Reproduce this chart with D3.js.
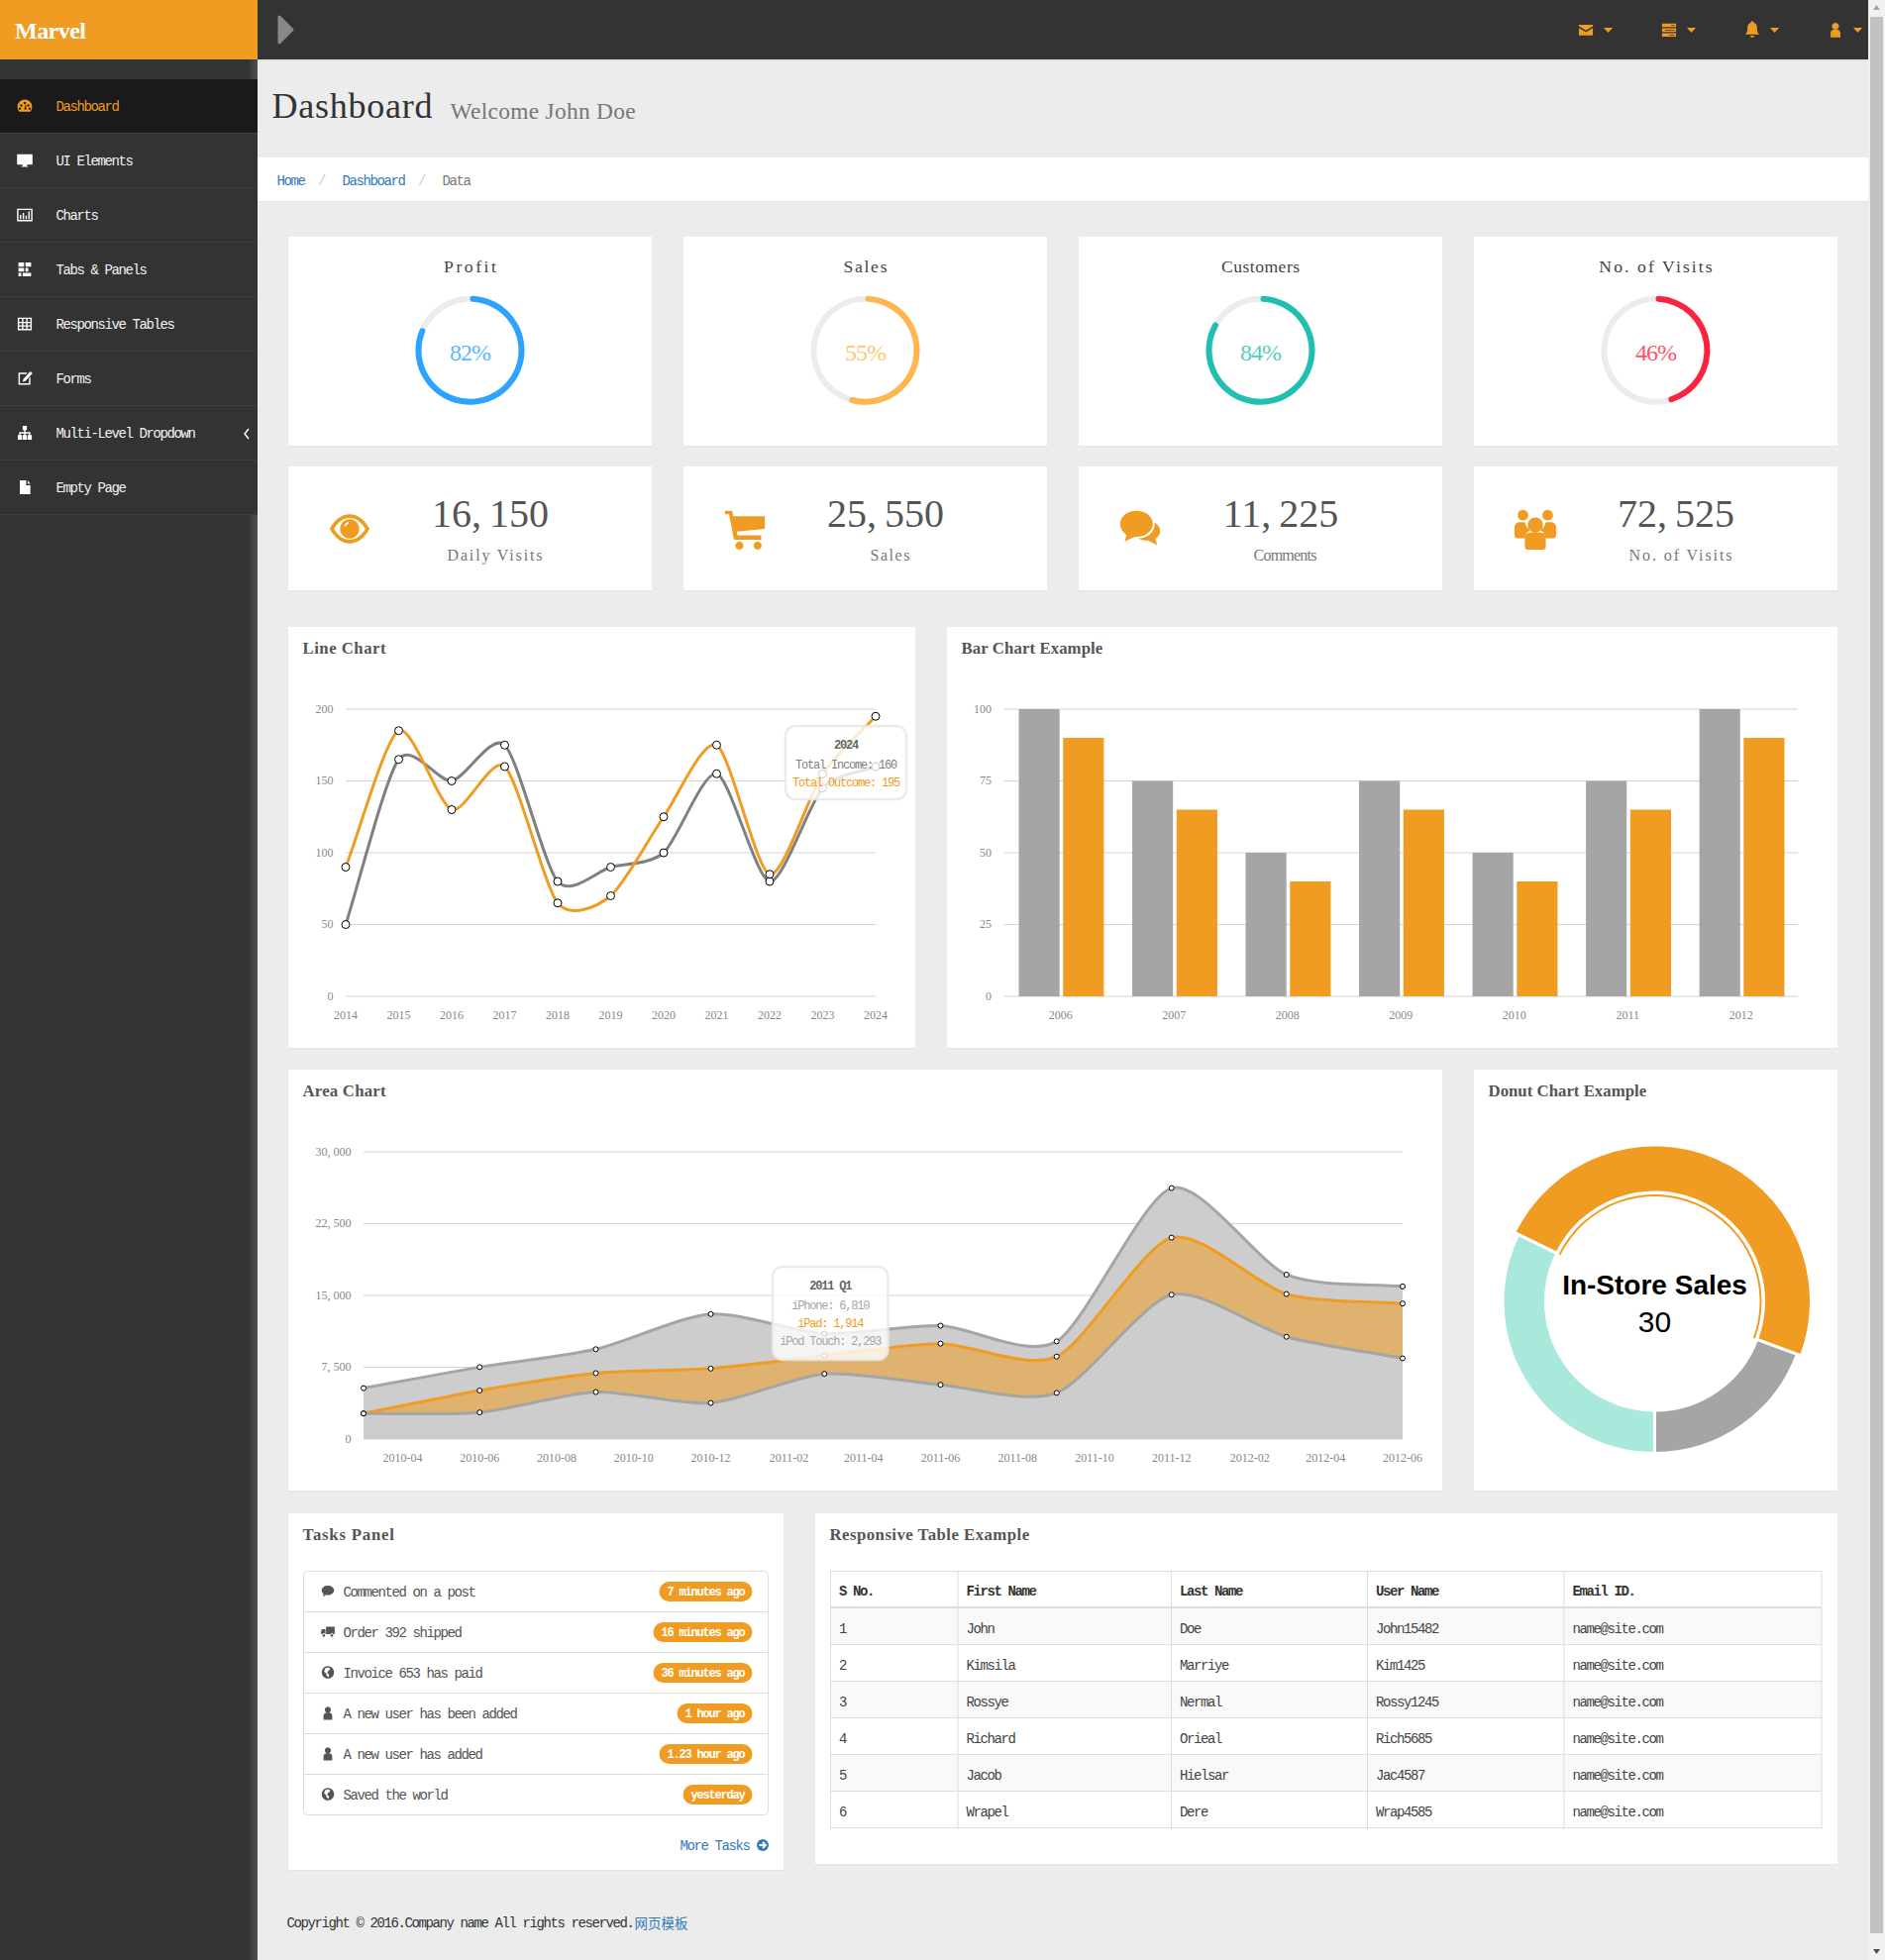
<!DOCTYPE html>
<html>
<head>
<meta charset="utf-8">
<title>Marvel Dashboard</title>
<script src="https://cdnjs.cloudflare.com/ajax/libs/d3/7.8.5/d3.min.js"></script>
<style>
  html, body { margin: 0; padding: 0; background: #ececec; overflow: hidden; }
  svg { display: block; }
  text { font-family: "Liberation Mono", monospace; letter-spacing: -0.1em; dominant-baseline: central; }
  .num, .serif, .tick text { font-family: "Liberation Serif", serif; letter-spacing: 0; }
  .tick text { font-size: 12px; fill: #888; dominant-baseline: auto; }
  .tick line { stroke: #d4d4d4; }
  .domain { display: none; }
  .tip { font-size: 12px; }
  .sans { font-family: "Liberation Sans", Arial, sans-serif; letter-spacing: 0; }
</style>
</head>
<body>
<svg id="page" width="1903" height="1979"></svg>
<script>
  const orange = '#f09c22', dark = '#333333', link = '#337ab7';

  // sidebar and header
  const sideLabels = ['Dashboard', 'UI Elements', 'Charts', 'Tabs & Panels', 'Responsive Tables', 'Forms', 'Multi-Level Dropdown', 'Empty Page'];
  const sideIcons = ['gauge', 'desktop', 'chart', 'tabs', 'table', 'edit', 'sitemap', 'file'];
  const topIcons = ['envelope', 'tasks', 'bell', 'user'];
  const crumbs = ['Home', '/', 'Dashboard', '/', 'Data'];

  // top cards
  const gaugeLabels = ['Profit', 'Sales', 'Customers', 'No. of Visits'];
  const gaugeValues = [82, 55, 84, 46];
  const gaugeColors = ['#2ba3ff', '#ffb74d', '#1fc0b1', '#f9243f'];
  const statValues = [16150, 25550, 11225, 72525];
  const statLabels = ['Daily Visits', 'Sales', 'Comments', 'No. of Visits'];
  const statIcons = ['eye', 'cart', 'chats', 'users'];

  // line chart
  const lineYears = ['2014', '2015', '2016', '2017', '2018', '2019', '2020', '2021', '2022', '2023', '2024'];
  const lineIncome = [50, 165, 150, 175, 80, 90, 100, 155, 80, 145, 160];
  const lineOutcome = [90, 185, 130, 160, 65, 70, 125, 175, 85, 155, 195];
  const lineTicks = [0, 50, 100, 150, 200];

  // bar chart
  const barYears = ['2006', '2007', '2008', '2009', '2010', '2011', '2012'];
  const barGrey = [100, 75, 50, 75, 50, 75, 100];
  const barOrange = [90, 65, 40, 65, 40, 65, 90];
  const barTicks = [0, 25, 50, 75, 100];

  // area chart, quarters sit on the third month
  const areaMonths = ['2010-03', '2010-06', '2010-09', '2010-12', '2011-03', '2011-06', '2011-09', '2011-12', '2012-03', '2012-06'];
  const iphone = [2666, 2778, 4912, 3767, 6810, 5670, 4820, 15073, 10687, 8432];
  const ipad = [0, 2294, 1969, 3597, 1914, 4293, 3795, 5967, 4460, 5713];
  const itouch = [2647, 2441, 2501, 5689, 2293, 1881, 1588, 5175, 2028, 1791];
  const areaTicks = [0, 7500, 15000, 22500, 30000];
  const areaLabels = ['2010-04', '2010-06', '2010-08', '2010-10', '2010-12', '2011-02', '2011-04', '2011-06', '2011-08', '2011-10', '2011-12', '2012-02', '2012-04', '2012-06'];

  // donut
  const donutLabels = ['Download Sales', 'In-Store Sales', 'Mail-Order Sales'];
  const donutValues = [12, 30, 20];
  const donutColors = ['#a5a5a5', orange, '#a8e9dc'];

  // tasks
  const taskTexts = ['Commented on a post', 'Order 392 shipped', 'Invoice 653 has paid', 'A new user has been added', 'A new user has added', 'Saved the world'];
  const taskTimes = ['7 minutes ago', '16 minutes ago', '36 minutes ago', '1 hour ago', '1.23 hour ago', 'yesterday'];
  const taskIcons = ['comment', 'truck', 'globe', 'user', 'user', 'globe'];

  // table
  const tableHead = ['S No.', 'First Name', 'Last Name', 'User Name', 'Email ID.'];
  const rowNo = ['1', '2', '3', '4', '5', '6'];
  const firstNames = ['John', 'Kimsila', 'Rossye', 'Richard', 'Jacob', 'Wrapel'];
  const lastNames = ['Doe', 'Marriye', 'Nermal', 'Orieal', 'Hielsar', 'Dere'];
  const userNames = ['John15482', 'Kim1425', 'Rossy1245', 'Rich5685', 'Jac4587', 'Wrap4585'];
  const emails = ['name@site.com', 'name@site.com', 'name@site.com', 'name@site.com', 'name@site.com', 'name@site.com'];
  const tableCols = [838.5, 967, 1182.5, 1380.5, 1579, 1839];

  const iconPaths = {
    gauge: 'M4 20A10.500 10.500 0 1 1 20 20ZM7 9.500a1.700 1.700 0 1 0 .01 0zM12 6a1.700 1.700 0 1 0 .01 0zM17 9.500a1.700 1.700 0 1 0 .01 0zM5 14a1.700 1.700 0 1 0 .01 0zM19 14a1.700 1.700 0 1 0 .01 0zM11 17l2.500-8 .8 8z',
    desktop: 'M1 3h22v15h-8v2h2v1H7v-1h2v-2H1z',
    chart: 'M1 3h22v18H1zM3 5v14h18V5zM5 12h2v6H5zM9 9h2v9H9zM13 13h2v5h-2zM17 7h2v11h-2z',
    tabs: 'M3 2h8v6H3zM13 2h8v6h-8zM3 10h8v5H3zM13 10h4v5h-4zM3 17h4v5H3zM9 17h12v5H9z',
    table: 'M2 3h20v18H2zM4 5v4h4V5zM10 5v4h4V5zM16 5v4h4V5zM4 11v3h4v-3zM10 11v3h4v-3zM16 11v3h4v-3zM4 16v3h4v-3zM10 16v3h4v-3zM16 16v3h4v-3z',
    edit: 'M3 4h13l-2 2H5v13h13v-7l2-2v11H3zM20 2l3 3-10 11-4 1 1-4z',
    sitemap: 'M9 2h6v6h-2v3h7v4h2v7h-6v-7h2v-2h-5v2h2v7H9v-7h2v-2H6v2h2v7H2v-7h2v-4h7V8H9z',
    file: 'M5 2h9v7h6v13H5zM16 2l4 5h-4z',
    envelope: 'M2 5h20v2l-10 6L2 7zM2 9.500l10 6 10-6V20H2z',
    tasks: 'M2 3h20v5H2zM2 10h20v5H2zM2 17h20v5H2zM15 5v1h5V5zM6 12v1h14v-1zM12 19v1h8v-1z',
    bell: 'M12 1a2 2 0 0 1 2 2c3 .8 4 3.500 4 6 0 5 1 7 3 9H3c2-2 3-4 3-9 0-2.500 1-5.200 4-6a2 2 0 0 1 2-2zM9.500 19.500h5a2.500 2.500 0 0 1-5 0z',
    user: 'M12 2a5 5 0 1 1-.01 0zM5 23v-6c0-3 2-5 4-5h6c2 0 4 2 4 5v6z',
    eye: 'M1 12C4 6.500 8 4 12 4s8 2.500 11 8c-3 5.500-7 8-11 8S4 17.500 1 12zM3.400 12c2.300 3.900 5.400 6 8.600 6s6.300-2.100 8.600-6c-2.300-3.900-5.400-6-8.600-6S5.700 8.100 3.400 12zM12 6.700a5.300 5.300 0 1 1-.01 0zM9 10.500c.2-1.200 1.200-2.200 2.400-2.300l.1 1c-.8.1-1.300.6-1.500 1.400z',
    cart: 'M1 2h4l.6 3H23v7l-15.500 1.500.4 2H21V18H6L3.300 4H1zM9 19a2.200 2.200 0 1 0 .01 0zM19 19a2.200 2.200 0 1 0 .01 0z',
    chats: 'M10 2c5 0 9 3.200 9 7.200s-4 7.200-9 7.200h-1L3.500 19l1-3.700C2.500 14 1 11.800 1 9.200 1 5.200 5 2 10 2zM20 8.500c2 1.300 3.300 3.200 3 5.200-.2 1.700-1.300 3-2.600 3.800l1 3.500-5-2.600c-2 .2-3.900-.2-5.300-1.200 4.800.2 9.300-3.200 8.900-8.700z',
    users: 'M5.500 2a2.800 2.800 0 1 1-.01 0zM18.500 2a2.800 2.800 0 1 1-.01 0zM12 6a4 4 0 1 1-.01 0zM1 11.500c0-1.800 1.200-3 2.500-3h3c.4 2 1.500 3.400 3 4.200-1.800.8-3 2.500-3 4.300H2.500C1.500 17 1 16 1 15zM23 11.500c0-1.800-1.200-3-2.500-3h-3c-.4 2-1.500 3.400-3 4.200 1.800.8 3 2.500 3 4.300h4c1 0 1.500-1 1.500-2zM9 14h6c1.500 0 2.500 1.500 2.500 3v4.500c0 1-1 1.500-2 1.500h-7c-1 0-2-.5-2-1.500V17c0-1.500 1-3 2.500-3z',
    comment: 'M12 3c5.500 0 10 3.400 10 7.600s-4.500 7.600-10 7.600c-.9 0-1.700-.1-2.500-.3L4 21l1.200-4.400C3.200 15.200 2 13 2 10.600 2 6.400 6.500 3 12 3z',
    truck: 'M9 4h14v12h-2.200a2.500 2.500 0 0 0-4.600 0H9zM2 8h6v8H7.800a2.500 2.500 0 0 0-4.600 0H1v-4zM5.500 16a2.200 2.200 0 1 0 .01 0zM18.500 16a2.200 2.200 0 1 0 .01 0z',
    globe: 'M12 2a10 10 0 1 0 .01 0zM8 5l5-1 3 2-2 3-2 1-1 3 3 3-1 4-3-3-1-4-3-2 1-4z'
  };

  const svg = d3.select('#page');

  function label(parent, x, y, str, size, color, anchor, cls) {
    return parent.append('text')
      .attr('x', x).attr('y', y + 1)
      .attr('class', cls || null)
      .attr('text-anchor', anchor || 'start')
      .style('font-size', size + 'px')
      .style('fill', color)
      .text(str);
  }

  // serif text stretched to half an em per character
  function serif(parent, x, y, str, size, color, anchor) {
    return label(parent, x, y, str, size, color, anchor, 'serif')
      .attr('textLength', String(str).length * size / 2)
      .attr('lengthAdjust', 'spacing');
  }

  function icon(parent, name, cx, cy, size, color) {
    const k = size / 24;
    return parent.append('path')
      .attr('d', iconPaths[name])
      .attr('fill-rule', 'evenodd')
      .attr('fill', color)
      .attr('transform', `translate(${cx - size / 2},${cy - size / 2}) scale(${k})`);
  }

  function caret(parent, x, y) {
    const s = d3.path();
    s.moveTo(x, y); s.lineTo(x + 9, y); s.lineTo(x + 4.5, y + 5); s.closePath();
    parent.append('path').attr('d', s.toString()).attr('fill', orange);
  }

  function panel(x, y, w, h, title) {
    svg.append('rect').attr('x', x).attr('y', y + 1).attr('width', w).attr('height', h).attr('fill', '#e3e3e3');
    svg.append('rect').attr('x', x).attr('y', y).attr('width', w).attr('height', h).attr('fill', '#fff');
    if (title) serif(svg, x + 14.5, y + 20.5, title, 16.8, '#555').style('font-weight', 700);
  }

  // Morris.js smoothing: slope from the neighbours, handles at a quarter of the gap
  function morrisCurve(ctx) {
    let pts = [], line = NaN;
    return {
      areaStart() { line = 0; },
      areaEnd() { line = NaN; ctx.closePath(); },
      lineStart() { pts = []; },
      point(x, y) { pts.push([x, y]); },
      lineEnd() {
        const n = pts.length;
        const grad = pts.map((p, i) => {
          const a = pts[Math.max(i - 1, 0)], b = pts[Math.min(i + 1, n - 1)];
          return (b[1] - a[1]) / (b[0] - a[0]);
        });
        if (line === 1) ctx.lineTo(pts[0][0], pts[0][1]); else ctx.moveTo(pts[0][0], pts[0][1]);
        for (let i = 1; i < n; i++) {
          const ix = (pts[i][0] - pts[i - 1][0]) / 4;
          ctx.bezierCurveTo(pts[i - 1][0] + ix, pts[i - 1][1] + ix * grad[i - 1], pts[i][0] - ix, pts[i][1] - ix * grad[i], pts[i][0], pts[i][1]);
        }
        line = 1 - line;
      }
    };
  }

  function yAxis(g, y, ticks, width, fmt) {
    g.call(d3.axisLeft(y).tickValues(ticks).tickSize(-width).tickPadding(12.5).tickFormat(fmt).offset(0));
    g.selectAll('.tick text').attr('dy', '.3em');
  }

  function xAxis(g, x) {
    g.call(x).selectAll('.tick line').remove();
  }

  function tooltip(x, y, w, h, title, rows) {
    const t = svg.append('g');
    t.append('rect').attr('x', x).attr('y', y).attr('width', w).attr('height', h).attr('rx', 10)
      .attr('fill', 'rgba(255,255,255,0.8)').attr('stroke', 'rgba(232,232,232,0.85)').attr('stroke-width', 2.5);
    label(t, x + w / 2, y + 19, title, 12, '#666', 'middle', 'tip').style('font-weight', 700);
    rows.forEach((r, i) => label(t, x + w / 2, y + 39 + i * 18, r[0], 12, r[1], 'middle', 'tip'));
  }

  // --- page chrome ---
  svg.append('rect').attr('width', 1903).attr('height', 1979).attr('fill', '#ececec');
  svg.append('rect').attr('x', 0).attr('y', 60).attr('width', 260).attr('height', 1919).attr('fill', dark);
  const edge = svg.append('defs').append('linearGradient').attr('id', 'edge');
  edge.append('stop').attr('offset', 0).attr('stop-color', '#fff').attr('stop-opacity', 0);
  edge.append('stop').attr('offset', 1).attr('stop-color', '#fff').attr('stop-opacity', 0.14);
  svg.append('rect').attr('x', 250).attr('y', 60).attr('width', 10).attr('height', 20).attr('fill', 'url(#edge)');
  svg.append('rect').attr('x', 250).attr('y', 520).attr('width', 10).attr('height', 1459).attr('fill', 'url(#edge)');

  svg.append('rect').attr('x', 0).attr('y', 0).attr('width', 260).attr('height', 60).attr('fill', orange);
  svg.append('rect').attr('x', 260).attr('y', 60).attr('width', 1626).attr('height', 2).attr('fill', '#e2e2e2');
  svg.append('rect').attr('x', 260).attr('y', 0).attr('width', 1626).attr('height', 60).attr('fill', dark);
  serif(svg, 15, 30, 'Marvel', 24, '#fff').style('font-weight', 700);
  svg.append('path').attr('d', 'M282 17L295 30L282 43Z').attr('fill', '#888').attr('stroke', '#888').attr('stroke-width', 3).attr('stroke-linejoin', 'round');

  const topX = [1601, 1685, 1769, 1853];
  const topSize = [17, 17, 19, 17];
  topIcons.forEach((name, i) => {
    icon(svg, name, topX[i], 30, topSize[i], orange);
    caret(svg, topX[i] + 18, 28);
  });

  svg.append('rect').attr('x', 0).attr('y', 80).attr('width', 260).attr('height', 54).attr('fill', '#1a1a1a');
  sideLabels.forEach((name, i) => {
    const y = 80 + i * 55;
    svg.append('rect').attr('x', 0).attr('y', y + 54).attr('width', 260).attr('height', 1).attr('fill', '#3e3e3e');
    const c = i === 0 ? orange : '#fff';
    label(svg, 56.5, y + 27, name, 14, i === 0 ? orange : '#f2f2f2');
    icon(svg, sideIcons[i], 25, y + 27, 17, c);
  });
  svg.append('path').attr('d', 'M251 433L247 438L251 443').attr('fill', 'none').attr('stroke', '#fff').attr('stroke-width', 1.5);

  serif(svg, 274.5, 106, 'Dashboard', 36, dark);
  serif(svg, 454.5, 111, 'Welcome John Doe', 23.4, '#777');

  svg.append('rect').attr('x', 260).attr('y', 160).attr('width', 1626).attr('height', 44).attr('fill', '#e4e4e4');
  svg.append('rect').attr('x', 260).attr('y', 159).attr('width', 1626).attr('height', 44).attr('fill', '#fff');
  const crumbX = [279.5, 321, 345.5, 422, 446.5];
  crumbs.forEach((c, i) => label(svg, crumbX[i], 181.5, c, 14, i === 4 ? '#777' : c === '/' ? '#ccc' : link));

  // scrollbar
  svg.append('rect').attr('x', 1887).attr('y', 0).attr('width', 16).attr('height', 1979).attr('fill', '#f1f1f1');
  svg.append('rect').attr('x', 1888).attr('y', 17).attr('width', 13).attr('height', 1935).attr('fill', '#c1c1c1');
  svg.append('path').attr('d', 'M1894.500 5L1898 10H1891Z').attr('fill', '#a3a3a3');
  svg.append('path').attr('d', 'M1891 1968H1898L1894.500 1973Z').attr('fill', '#505050');

  // --- gauges and counters ---
  const cardX = [291, 690, 1089, 1488];
  const gaugeArc = d3.arc().innerRadius(49).outerRadius(55);
  gaugeValues.forEach((v, i) => {
    const x = cardX[i];
    panel(x, 239, 367, 211);
    serif(svg, x + 183.5, 268, gaugeLabels[i], 17.6, '#444', 'middle');
    const g = svg.append('g').attr('transform', `translate(${x + 183.5},353.700)`);
    g.append('path').attr('d', gaugeArc({ startAngle: 0, endAngle: 2 * Math.PI })).attr('fill', '#ececec');
    g.append('path').attr('d', gaugeArc.cornerRadius(3)({ startAngle: 0, endAngle: v / 100 * 2 * Math.PI })).attr('fill', gaugeColors[i]);
    gaugeArc.cornerRadius(0);
    label(g, 0, 1, v + '%', 24, gaugeColors[i], 'middle', 'num').style('letter-spacing', '-1px').style('fill-opacity', 0.8);
  });

  const thousands = d3.format(',');
  // the comma in the reference font is as wide as a digit
  function spacedComma(text, gap) {
    text.each(function () {
      const [a, b] = this.textContent.split(',');
      if (b === undefined) return;
      this.textContent = a + ',';
      d3.select(this).append('tspan').attr('dx', gap).text(b);
    });
  }

  statValues.forEach((v, i) => {
    const x = cardX[i];
    panel(x, 471, 367, 125);
    icon(svg, statIcons[i], x + 62, 534, i === 3 ? 46 : 44, orange);
    label(svg, x + 204, 517, thousands(v), 40, '#555', 'middle', 'num').call(spacedComma, 8);
    serif(svg, x + 208.5, 559, statLabels[i], 16, '#777', 'middle');
  });

  // --- line chart ---
  panel(291, 633, 633, 425, 'Line Chart');
  const lineX = d3.scalePoint().domain(lineYears).range([349, 884]);
  const lineY = d3.scaleLinear().domain([0, 200]).range([1006, 716]);
  yAxis(svg.append('g').attr('transform', 'translate(349,0)'), lineY, lineTicks, 535, d => d);
  xAxis(svg.append('g').attr('transform', 'translate(0,1006)'), d3.axisBottom(lineX).tickSize(0).tickPadding(14.5).offset(0));

  const linePath = d3.line().x(d => d.x).y(d => d.y).curve(morrisCurve);
  [[lineIncome, '#808080'], [lineOutcome, orange]].forEach(([vals, color]) => {
    const pts = vals.map((v, i) => ({ x: lineX(lineYears[i]), y: lineY(v) }));
    svg.append('path').attr('d', linePath(pts)).attr('fill', 'none').attr('stroke', color).attr('stroke-width', 3);
  });
  [lineIncome, lineOutcome].forEach(vals => {
    svg.append('g').selectAll('circle').data(vals).join('circle')
      .attr('cx', (d, i) => lineX(lineYears[i])).attr('cy', d => lineY(d)).attr('r', 4)
      .attr('fill', '#fff').attr('stroke', '#000').attr('stroke-width', 1);
  });
  tooltip(793, 733, 122, 74, lineYears[10], [
    ['Total Income: ' + lineIncome[10], '#808080'],
    ['Total Outcome: ' + lineOutcome[10], orange]
  ]);

  // --- bar chart ---
  panel(956, 633, 899, 425, 'Bar Chart Example');
  const barX = d3.scaleBand().domain(barYears).range([1014.200, 1815.800]).paddingInner(0.25).paddingOuter(0.125);
  const barSub = d3.scaleBand().domain([0, 1]).range([0, barX.bandwidth()]).paddingInner(0.08);
  const barY = d3.scaleLinear().domain([0, 100]).range([1006, 716]);
  yAxis(svg.append('g').attr('transform', 'translate(1013.400,0)'), barY, barTicks, 801.6, d => d);
  xAxis(svg.append('g').attr('transform', 'translate(-0.800,1006)'), d3.axisBottom(barX).tickSize(0).tickPadding(14.5).offset(0));
  [[barGrey, '#a5a5a5'], [barOrange, orange]].forEach(([vals, color], s) => {
    svg.append('g').selectAll('rect').data(vals).join('rect')
      .attr('x', (d, i) => barX(barYears[i]) + barSub(s))
      .attr('y', d => barY(d))
      .attr('width', barSub.bandwidth())
      .attr('height', d => barY(0) - barY(d))
      .attr('fill', color);
  });

  // --- area chart ---
  panel(291, 1080, 1165, 425, 'Area Chart');
  const parseMonth = d3.utcParse('%Y-%m');
  const areaDates = areaMonths.map(parseMonth);
  const areaX = d3.scaleUtc().domain([areaDates[0], areaDates[9]]).range([367, 1416]);
  const areaY = d3.scaleLinear().domain([0, 30000]).range([1453, 1163]);
  const areaYAxis = svg.append('g').attr('transform', 'translate(367,0)');
  yAxis(areaYAxis, areaY, areaTicks, 1049, thousands);
  areaYAxis.selectAll('.tick text').call(spacedComma, 3);
  const areaTickDates = areaLabels.map(parseMonth);
  xAxis(svg.append('g').attr('transform', 'translate(0,1453)'),
    d3.axisBottom(areaX).tickValues(areaTickDates).tickFormat(d3.utcFormat('%Y-%m')).tickSize(0).tickPadding(14.5).offset(0));

  const areaRows = areaMonths.map((m, i) => ({ date: areaDates[i], iphone: iphone[i], ipad: ipad[i], itouch: itouch[i] }));
  const areaStack = d3.stack().keys(['iphone', 'ipad', 'itouch'])(areaRows);
  const areaFill = d3.area().x(d => areaX(d.data.date)).y0(areaY(0)).y1(d => areaY(d[1])).curve(morrisCurve);
  const areaLine = d3.line().x(d => areaX(d.data.date)).y(d => areaY(d[1])).curve(morrisCurve);
  const layerFill = ['#cdcdcd', '#e0b26f', '#cdcdcd'];
  const layerLine = ['#a5a5a5', orange, '#a5a5a5'];
  d3.range(2, -1, -1).forEach(s => {
    svg.append('path').attr('d', areaFill(areaStack[s])).attr('fill', layerFill[s]);
    svg.append('path').attr('d', areaLine(areaStack[s])).attr('fill', 'none').attr('stroke', layerLine[s]).attr('stroke-width', 3);
  });
  areaStack.forEach(layer => {
    svg.append('g').selectAll('circle').data(layer).join('circle')
      .attr('cx', d => areaX(d.data.date)).attr('cy', d => areaY(d[1])).attr('r', 2.500)
      .attr('fill', '#fff').attr('stroke', '#000').attr('stroke-width', 1);
  });
  tooltip(780, 1279, 116.5, 94, '2011 Q1', [
    ['iPhone: ' + thousands(iphone[4]), '#a5a5a5'],
    ['iPad: ' + thousands(ipad[4]), orange],
    ['iPod Touch: ' + thousands(itouch[4]), '#a5a5a5']
  ]);

  // --- donut ---
  panel(1488, 1080, 367, 425, 'Donut Chart Example');
  const pie = d3.pie().sort(null).startAngle(Math.PI).endAngle(-Math.PI);
  const donut = svg.append('g').attr('transform', 'translate(1670.500,1314)');
  const ring = d3.arc().innerRadius(110);
  pie(donutValues).forEach((a, i) => {
    const selected = i === 1;
    donut.append('path').attr('d', ring.outerRadius(selected ? 158 : 153.5)(a))
      .attr('fill', donutColors[i]).attr('stroke', '#fff').attr('stroke-width', 3);
    if (selected) {
      donut.append('path').attr('d', d3.arc().innerRadius(106).outerRadius(108)(a)).attr('fill', donutColors[i]);
    }
  });
  label(donut, 0, -17.5, donutLabels[1], 28, '#000', 'middle', 'sans').style('font-weight', 700);
  label(donut, 0, 19, donutValues[1], 30, '#000', 'middle', 'sans');

  // --- tasks panel ---
  panel(291, 1528, 500, 360, 'Tasks Panel');
  svg.append('rect').attr('x', 306.5).attr('y', 1586.5).attr('width', 469).attr('height', 246).attr('rx', 4)
    .attr('fill', '#fff').attr('stroke', '#ddd');
  taskTexts.forEach((t, i) => {
    const y = 1586 + i * 41;
    if (i > 0) svg.append('rect').attr('x', 307).attr('y', y).attr('width', 468).attr('height', 1).attr('fill', '#ddd');
    icon(svg, taskIcons[i], 331, y + 20.5, 15, '#555');
    label(svg, 346.5, y + 21, t, 14, '#555');
    const w = taskTimes[i].length * 6 + 16;
    svg.append('rect').attr('x', 759.5 - w).attr('y', y + 11).attr('width', w).attr('height', 20).attr('rx', 10).attr('fill', orange);
    label(svg, 759.5 - w + 8, y + 20.5, taskTimes[i], 12, '#fff').style('font-weight', 700);
  });
  label(svg, 686.5, 1863, 'More Tasks', 14, link);
  svg.append('circle').attr('cx', 770).attr('cy', 1863).attr('r', 6).attr('fill', link);
  svg.append('path').attr('d', 'M766.500 1863H772M770 1860L773 1863L770 1866').attr('fill', 'none').attr('stroke', '#fff').attr('stroke-width', 1.800);

  // --- table ---
  panel(823, 1528, 1032, 354, 'Responsive Table Example');
  const rowColumns = [rowNo, firstNames, lastNames, userNames, emails];
  rowNo.forEach((r, i) => {
    if (i % 2 === 0) svg.append('rect').attr('x', tableCols[0]).attr('y', 1624 + i * 37).attr('width', tableCols[5] - tableCols[0]).attr('height', 37).attr('fill', '#f9f9f9');
    svg.append('rect').attr('x', tableCols[0]).attr('y', 1660 + i * 37).attr('width', tableCols[5] - tableCols[0]).attr('height', 1).attr('fill', '#ddd');
  });
  svg.append('rect').attr('x', tableCols[0]).attr('y', 1586).attr('width', tableCols[5] - tableCols[0]).attr('height', 1).attr('fill', '#ddd');
  svg.append('rect').attr('x', tableCols[0]).attr('y', 1622).attr('width', tableCols[5] - tableCols[0]).attr('height', 2).attr('fill', '#ddd');
  tableCols.forEach(x => svg.append('rect').attr('x', x - 0.5).attr('y', 1586).attr('width', 1).attr('height', 261).attr('fill', '#ddd'));
  tableHead.forEach((h, c) => {
    label(svg, tableCols[c] + 8.5, 1605.5, h, 14, dark).style('font-weight', 700);
    rowColumns[c].forEach((v, i) => label(svg, tableCols[c] + 8.5, 1643.5 + i * 37, v, 14, '#444'));
  });

  // --- footer ---
  label(svg, 289.5, 1941, 'Copyright © 2016.Company name All rights reserved.', 14, dark);
  label(svg, 640.5, 1940, '网页模板', 13.5, link).style('font-family', '"Noto Sans CJK SC"').style('letter-spacing', 0);
</script>
</body>
</html>
